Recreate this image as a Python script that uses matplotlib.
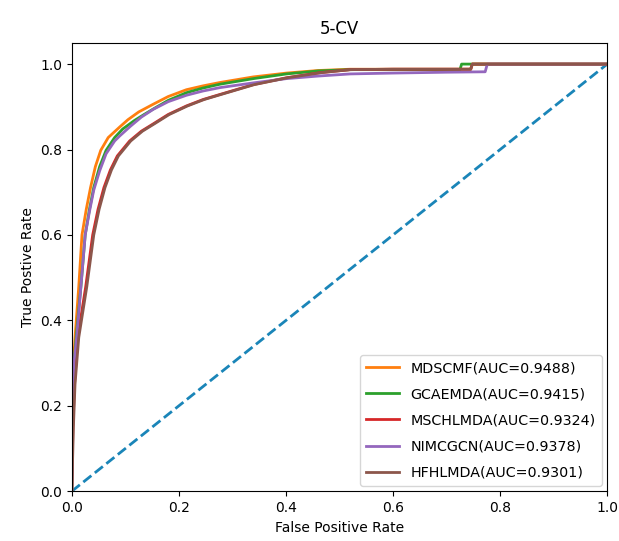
import matplotlib
matplotlib.use("Agg")
import matplotlib.pyplot as plt

# ROC curve points (fpr, tpr)
labels = ['MDSCMF(AUC=0.9488)', 'GCAEMDA(AUC=0.9415)', 'MSCHLMDA(AUC=0.9324)',
          'NIMCGCN(AUC=0.9378)', 'HFHLMDA(AUC=0.9301)']

fpr_mdscmf = [0, 0.001, 0.003, 0.006, 0.013, 0.019, 0.027, 0.035, 0.044, 0.054, 0.068, 0.0897, 0.105,
              0.125, 0.152, 0.18, 0.214, 0.245, 0.277, 0.339, 0.401, 0.46, 0.52, 0.6, 0.7, 0.745, 0.748, 1.0]
tpr_mdscmf = [0, 0.2, 0.3, 0.36, 0.479, 0.6, 0.66, 0.711, 0.76, 0.798, 0.828, 0.853, 0.87,
              0.888, 0.906, 0.924, 0.94, 0.949, 0.957, 0.970, 0.979, 0.985, 0.988, 0.988, 0.988, 0.988, 1.0, 1.0]

fpr_gcaemda = [0, 0.002, 0.004, 0.008, 0.017, 0.025, 0.033, 0.041, 0.052, 0.064, 0.08, 0.095, 0.117,
               0.135, 0.155, 0.18, 0.214, 0.245, 0.277, 0.339, 0.401, 0.46, 0.52, 0.6, 0.725, 0.728, 1.0]
tpr_gcaemda = [0, 0.2, 0.3, 0.36, 0.479, 0.6, 0.66, 0.711, 0.76, 0.798, 0.828, 0.848, 0.868,
               0.882, 0.897, 0.915, 0.933, 0.944, 0.953, 0.966, 0.977, 0.984, 0.987, 0.987, 0.987, 1.0, 1.0]

fpr_mschlmda = [0, 0.002, 0.005, 0.011, 0.026, 0.039, 0.049, 0.06, 0.072, 0.085, 0.108, 0.13, 0.152,
                0.18, 0.214, 0.245, 0.277, 0.339, 0.401, 0.464, 0.52, 0.6, 0.7, 0.745, 0.748, 1.0]
tpr_mschlmda = [0, 0.15, 0.25, 0.36, 0.479, 0.6, 0.66, 0.711, 0.752, 0.785, 0.82, 0.843, 0.86,
                0.882, 0.902, 0.917, 0.929, 0.952, 0.968, 0.98, 0.987, 0.988, 0.988, 0.988, 1.0, 1.0]

fpr_nimcgcn = [0, 0.002, 0.004, 0.009, 0.017, 0.025, 0.033, 0.041, 0.052, 0.064, 0.08, 0.0897, 0.11,
               0.13, 0.152, 0.18, 0.214, 0.245, 0.277, 0.339, 0.401, 0.46, 0.52, 0.6, 0.7, 0.772, 0.776, 1.0]
tpr_nimcgcn = [0, 0.2, 0.3, 0.36, 0.479, 0.6, 0.655, 0.705, 0.75, 0.79, 0.82, 0.832, 0.855,
               0.876, 0.894, 0.912, 0.927, 0.937, 0.945, 0.956, 0.966, 0.972, 0.977, 0.979, 0.981, 0.982, 1.0, 1.0]

fpr_hfhlmda = [0, 0.003, 0.006, 0.013, 0.028, 0.041, 0.051, 0.062, 0.074, 0.087, 0.11, 0.132, 0.154,
               0.182, 0.216, 0.247, 0.279, 0.341, 0.403, 0.466, 0.52, 0.6, 0.7, 0.745, 0.748, 1.0]
tpr_hfhlmda = [0, 0.15, 0.25, 0.36, 0.479, 0.6, 0.66, 0.711, 0.752, 0.785, 0.82, 0.843, 0.86,
               0.882, 0.902, 0.917, 0.929, 0.952, 0.968, 0.98, 0.987, 0.988, 0.988, 0.988, 1.0, 1.0]

colors = ['#ff7f0e', '#2ca02c', '#d62728', '#9467bd', '#8c564b']
curves = [(fpr_mdscmf, tpr_mdscmf), (fpr_gcaemda, tpr_gcaemda), (fpr_mschlmda, tpr_mschlmda),
          (fpr_nimcgcn, tpr_nimcgcn), (fpr_hfhlmda, tpr_hfhlmda)]

fig = plt.figure(figsize=(6.19, 5.41), dpi=100)
ax = fig.add_axes([0.116, 0.092, 0.865, 0.829])

ax.plot([0, 1], [0, 1], linestyle='--', color='#1a85b8', lw=2)
for (x, y), lab, c in zip(curves, labels, colors):
    ax.plot(x, y, color=c, lw=2, label=lab)

ax.set_xlim(0, 1.0)
ax.set_ylim(0, 1.05)
ax.set_xlabel('False Positive Rate')
ax.set_ylabel('True Postive Rate')
ax.set_title('5-CV')
ax.legend(loc='lower right', fontsize=10.3, labelspacing=0.85, handlelength=2.3,
          borderaxespad=0.4)

fig.savefig('out.png', dpi=100)
